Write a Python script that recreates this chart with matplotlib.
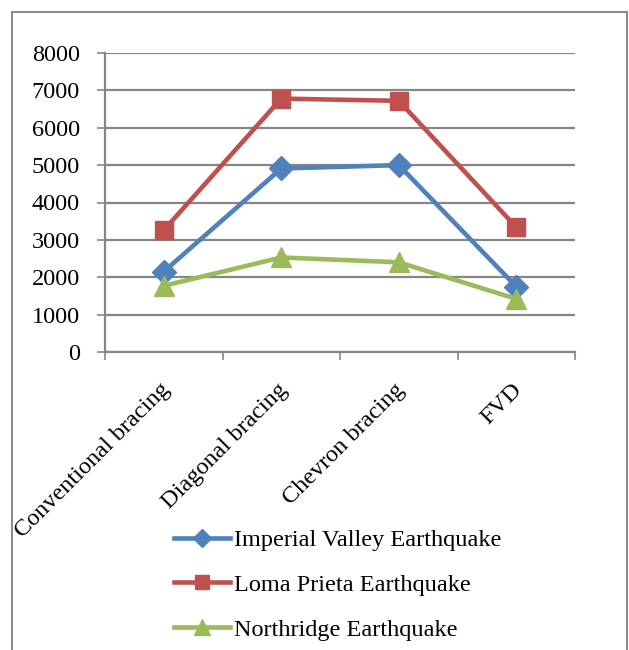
import numpy as np
import matplotlib
matplotlib.use('Agg')
import matplotlib.pyplot as plt
from matplotlib.patches import Rectangle
from matplotlib.transforms import ScaledTranslation

plt.rcParams['font.family'] = ['Liberation Serif', 'DejaVu Serif']

# Peak response per bracing system
categories = ['Conventional bracing', 'Diagonal bracing', 'Chevron bracing', 'FVD']
imperial_valley = [2150, 4910, 5000, 1750]
loma_prieta = [3260, 6780, 6720, 3340]
northridge = [1770, 2530, 2400, 1420]

series = [
    ('Imperial Valley Earthquake', imperial_valley, '#4F81BD', 'D', 12),
    ('Loma Prieta Earthquake', loma_prieta, '#C0504D', 's', 13),
    ('Northridge Earthquake', northridge, '#9BBB59', '^', 14),
]

fs = 17.5
fig = plt.figure(figsize=(6.29, 6.5), dpi=100)
ax = fig.add_axes([105 / 629, 1 - 352 / 650, 470 / 629, 299 / 650])

x = np.arange(len(categories))
for name, vals, col, mk, ms in series:
    ax.plot(x, vals, color=col, lw=3.3, marker=mk, markersize=ms,
            markeredgecolor=col, label=name, zorder=3)

grid_col = '#868686'
ax.set_xlim(-0.5, len(categories) - 0.5)
ax.set_ylim(0, 8000)
ax.set_yticks(np.arange(0, 8001, 1000))
ax.yaxis.grid(True, color=grid_col, lw=1.6)
ax.set_axisbelow(True)
ax.tick_params(axis='y', length=6, width=1.2, color=grid_col, pad=12, labelsize=fs)

ax.set_xticks(x)
ax.set_xticklabels(categories, rotation=45, ha='right', va='center',
                   rotation_mode='anchor', fontsize=fs)
ax.set_xticks(np.arange(-0.5, len(categories)), minor=True)
ax.tick_params(axis='x', which='major', length=0, pad=25)
ax.tick_params(axis='x', which='minor', length=6, width=1.2, color=grid_col)
for lbl in ax.get_xticklabels():
    lbl.set_transform(lbl.get_transform() + ScaledTranslation(0.03, 0, fig.dpi_scale_trans))

for side in ['top', 'right']:
    ax.spines[side].set_visible(False)
for side in ['left', 'bottom']:
    ax.spines[side].set_color(grid_col)
    ax.spines[side].set_linewidth(1.6)

fig.legend(loc='upper left', bbox_to_anchor=(174 / 629, 1 - 529 / 650),
           frameon=False, fontsize=fs, handlelength=2.3, handletextpad=0.15,
           labelspacing=0.94, borderpad=0, borderaxespad=0, markerscale=0.8)

# outer chart border
fig.patches.append(Rectangle((12 / 629, -0.01), 615 / 629, 1 - 12 / 650 + 0.01,
                             transform=fig.transFigure, fill=False,
                             edgecolor='#8c8c8c', lw=1.5))

fig.savefig('out.png', dpi=100)
